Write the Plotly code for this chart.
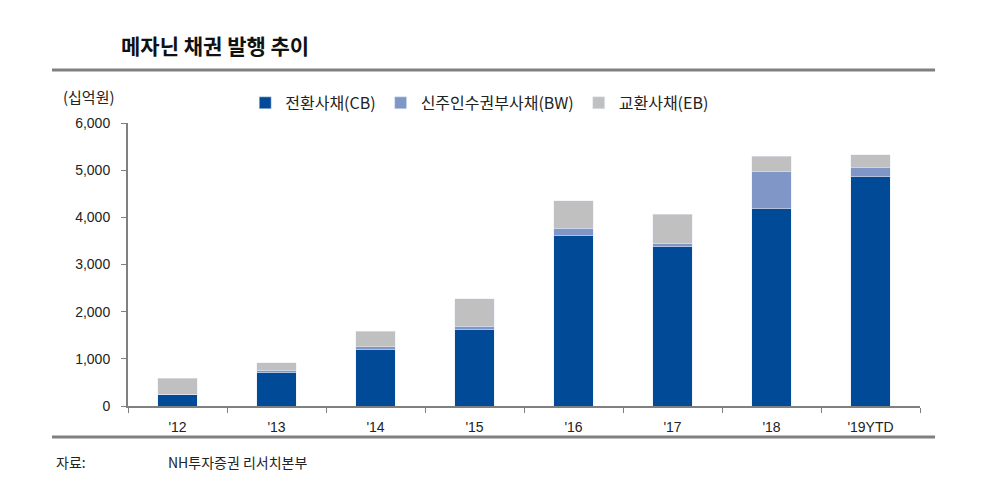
import plotly.graph_objects as go

# 메자닌 채권 발행 추이 (단위: 십억원)
years = ["'12", "'13", "'14", "'15", "'16", "'17", "'18", "'19YTD"]
cb = [240, 710, 1205, 1630, 3620, 3380, 4180, 4860]   # 전환사채(CB)
bw = [5, 45, 50, 65, 150, 65, 790, 200]               # 신주인수권부사채(BW)
eb = [340, 160, 330, 575, 580, 620, 330, 270]         # 교환사채(EB)

font_main = "Liberation Sans, Arial, Noto Sans CJK KR"

fig = go.Figure()
fig.add_trace(go.Bar(x=years, y=cb, name="전환사채(CB)", marker_color="#004A98", width=0.4))
fig.add_trace(go.Bar(x=years, y=bw, name="신주인수권부사채(BW)", marker_color="#7F96C6", width=0.4))
fig.add_trace(go.Bar(x=years, y=eb, name="교환사채(EB)", marker_color="#C0C0C0", width=0.4))

# page body has an 8px margin, so the figure is a bit smaller than the window
fig.update_layout(
    barmode="stack",
    width=969, height=475,
    margin=dict(l=120, r=57, t=115, b=77),
    plot_bgcolor="white",
    paper_bgcolor="white",
    font=dict(family=font_main, size=14, color="#222222"),
    showlegend=True,
    legend=dict(
        orientation="h", x=0.148, y=1.071, xanchor="left", yanchor="middle",
        font=dict(size=16, family="Noto Sans CJK KR, Liberation Sans"),
        traceorder="normal", itemwidth=30, bgcolor="rgba(0,0,0,0)",
    ),
)

fig.update_xaxes(
    showline=True, linecolor="#808080", linewidth=2,
    ticks="outside", tickson="boundaries", ticklen=5, tickcolor="#808080",
    ticklabelstandoff=7,
    tickfont=dict(size=14), showgrid=False,
)
fig.update_yaxes(
    range=[0, 6000], dtick=1000, tickformat=",",
    showline=True, linecolor="#808080", linewidth=2,
    ticks="outside", ticklen=5, tickcolor="#808080",
    ticklabelstandoff=8,
    tickfont=dict(size=14), showgrid=False, zeroline=False,
)

# top and bottom rules
for yy in [1.187, -0.1095]:
    fig.add_shape(type="line", xref="paper", yref="paper",
                  x0=-0.096, x1=1.019, y0=yy, y1=yy,
                  line=dict(color="#808080", width=3))

fig.add_annotation(text="<b>메자닌 채권 발행 추이</b>", xref="paper", yref="paper",
                   x=-0.011, y=1.276, xanchor="left", yanchor="middle", showarrow=False,
                   font=dict(size=21, family="Noto Sans CJK KR", color="#111111"))
fig.add_annotation(text="(십억원)", xref="paper", yref="paper",
                   x=-0.084, y=1.092, xanchor="left", yanchor="middle", showarrow=False,
                   font=dict(size=15, family="Noto Sans CJK KR"))
fig.add_annotation(text="자료:", xref="paper", yref="paper",
                   x=-0.093, y=-0.198, xanchor="left", yanchor="middle", showarrow=False,
                   font=dict(size=14, family="Noto Sans CJK KR"))
fig.add_annotation(text="NH투자증권 리서치본부", xref="paper", yref="paper",
                   x=0.048, y=-0.198, xanchor="left", yanchor="middle", showarrow=False,
                   font=dict(size=14, family="Noto Sans CJK KR"))

fig.write_html("out.html")
